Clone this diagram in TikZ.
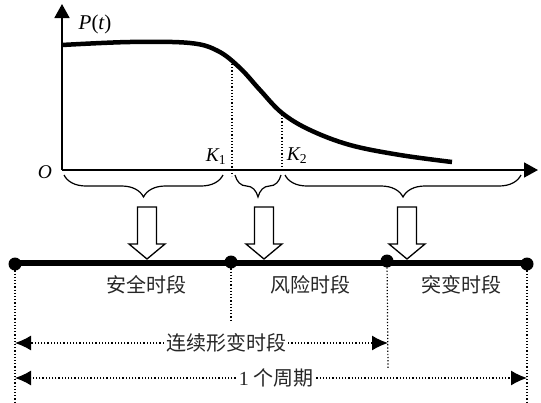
\documentclass[tikz,border=0pt]{standalone}
\usepackage{fontspec}
\setmainfont{Liberation Serif}
\newfontfamily\cjk{Noto Sans CJK SC}
\usetikzlibrary{arrows.meta,decorations.pathreplacing}
\newcommand\hollowarrow[1]{\draw[hollow] (#1-9.5,207) -- (#1+9.5,207) -- (#1+9.5,244) -- (#1+18,244) -- (#1,259) -- (#1-18,244) -- (#1-9.5,244) -- cycle;}
\begin{document}
\begin{tikzpicture}[x=1pt,y=-1pt,
  axis/.style={line width=1.8pt,-{Triangle[length=14pt,width=15pt]}},
  curve/.style={line width=4.5pt},
  guide/.style={dotted,line width=1.2pt},
  brc/.style={decorate,decoration={brace,mirror,amplitude=22pt,aspect=0.5},line width=1.2pt},
  hollow/.style={draw,fill=white,line width=1.3pt},
  bar/.style={line width=6.5pt},
  dot/.style={circle,fill=black,inner sep=0pt,minimum size=13pt},
  seg/.style={font=\cjk\fontsize{20}{22}\selectfont,text=black!85},
  dim/.style={dotted,line width=1.2pt,-{Latex[length=16pt,width=15pt]}},
  lbl/.style={font=\fontsize{19.5}{21}\selectfont\itshape}
]
\useasboundingbox (0,0) rectangle (541,402);
% axes
\coordinate (O) at (62,170);
\coordinate (ytip) at (62,4);
\coordinate (xtip) at (538,170);
\draw[axis] (O) -- (ytip);
\draw[axis] (O) -- (xtip);
\node[lbl] (Ol) at (45,172) {O};
\node[lbl,font=\fontsize{21}{23}\selectfont\itshape] (Pl) at (95,24) {P\upshape(\itshape t\upshape)};
\node[lbl] (K1) at (216,157) {K\textsubscript{\upshape 1}};
\node[lbl] (K2) at (297,156) {K\textsubscript{\upshape 2}};
% curve
\draw[curve] plot[smooth,tension=0.6] coordinates {(62,45) (130,42) (190,43) (218,51) (240,68) (260,90) (282,113) (310,130) (350,145) (400,155) (452,162)};
% K guides
\draw[guide] (232,64) -- (232,176);
\draw[guide] (282,115) -- (282,172);
% braces
\draw[brc] (64,175) -- (223,175);
\draw[brc] (235,175) -- (281,175);
\draw[brc] (285,175) -- (521,175);
% bar
\coordinate (b1) at (15,263);
\coordinate (b4) at (527,263);
\draw[bar] (b1) -- (b4);
% hollow arrows
\hollowarrow{147}
\hollowarrow{264}
\hollowarrow{407}
\node[dot] (d1) at (15,264) {};
\node[dot] (d2) at (231,262) {};
\node[dot] (d3) at (387,261) {};
\node[dot] (d4) at (527,264) {};
% vertical dotted lines
\coordinate (v1) at (15,402);
\coordinate (v2) at (231,322);
\coordinate (v3) at (388,368);
\coordinate (v4) at (527,402);
\draw[guide] (d1.center) -- (v1);
\draw[guide] (d2.center) -- (v2);
\draw[guide] (d3.center) -- (v3);
\draw[guide] (d4.center) -- (v4);
% segment labels
\node[seg] (s1) at (146,285) {安全时段};
\node[seg] (s2) at (310,285) {风险时段};
\node[seg] (s3) at (461,285) {突变时段};
% dimensions
\node[seg,inner sep=2pt] (c1) at (226,343) {连续形变时段};
\coordinate (c1l) at (15,343);
\coordinate (c1r) at (388,343);
\draw[dim] (c1.west) -- (c1l);
\draw[dim] (c1.east) -- (c1r);
\node[seg,inner sep=3pt] (c2) at (276,378) {{\rmfamily 1} 个周期};
\coordinate (c2l) at (15,378);
\coordinate (c2r) at (527,378);
\draw[dim] (c2.west) -- (c2l);
\draw[dim] (c2.east) -- (c2r);
\end{tikzpicture}
\end{document}
